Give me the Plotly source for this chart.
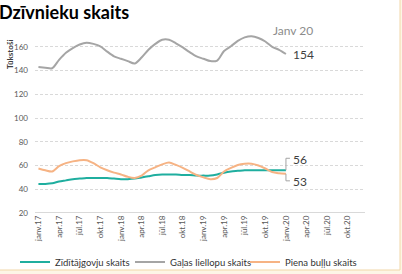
import plotly.graph_objects as go

years = ["17", "18", "19", "20"]
month_abbr = ["janv.", "febr.", "marts", "apr.", "maijs", "jūn.", "jūl.", "aug.", "sept.", "okt.", "nov.", "dec."]
months = [m + y for y in years for m in month_abbr]
tick_labels = [m for i, m in enumerate(months) if i % 3 == 0]

zidit = [44.5, 44.5, 45, 46.5, 47.5, 48.5, 49, 49.5, 49.5, 49.5, 49.5, 49,
         48.5, 48.5, 49, 50, 51, 52, 52.5, 52.5, 52.5, 52, 52, 51.5,
         51.5, 51.5, 52.5, 54, 55, 55.5, 56, 56, 56, 56, 56, 56,
         56]
galas = [143, 142.5, 142, 149, 155, 159, 162, 163.5, 162.5, 160.5, 156, 152,
         150, 148, 146, 151, 157.5, 162.5, 166, 166, 163, 159.5, 155.5, 152,
         150, 148, 148.5, 156.5, 160.5, 165, 168, 169, 167.5, 164.5, 160, 157.5,
         154]
piena = [57.5, 56, 55, 59.5, 62, 63.5, 64.5, 64.5, 62, 58.5, 56, 54,
         52.5, 50.5, 49.5, 51.5, 56, 58.5, 61, 62.5, 60.5, 58, 55, 52,
         50, 48.5, 49.5, 55, 58, 60.5, 61.5, 61.5, 60, 57.5, 54.5, 53.5,
         53]
series_names = ["Zīdītājgovju skaits", "Gaļas liellopu skaits", "Piena buļļu skaits"]
colors = ["#1fae9f", "#a5a5a5", "#f6b384"]

FONT = "Lato"
W, H = 402, 274
L, R, T, B = 35, 37, 35, 61
pw, ph = W - L - R, H - T - B

def px_x(p):
    return (p - L) / pw

def px_y(p):
    return (H - B - p) / ph

fig = go.Figure()
x_data = months[:len(zidit)]
for name, vals, col in zip(series_names, [zidit, galas, piena], colors):
    fig.add_trace(go.Scatter(
        x=x_data, y=vals, name=name, mode="lines",
        line=dict(color=col, width=2, shape="spline", smoothing=0.8),
    ))

last = x_data[-1]
annots = [
    dict(x=px_x(0), y=px_y(12), xref="paper", yref="paper", text="<b>Dzīvnieku skaits</b>",
         showarrow=False, xanchor="left", yanchor="middle", xshift=-3,
         font=dict(size=18, color="#000000", family=FONT)),
    dict(x=px_x(10), y=px_y(55), xref="paper", yref="paper", text="<b>Tūkstoši</b>", textangle=-90,
         showarrow=False, xanchor="center", yanchor="middle", font=dict(size=8, color="#404040", family=FONT)),
    dict(x=last, y=galas[-1], xref="x", yref="y", text="Janv 20", showarrow=False,
         xanchor="center", yanchor="middle", xshift=7, yshift=23, font=dict(size=12, color="#8c8c8c", family=FONT)),
    dict(x=last, y=galas[-1], xref="x", yref="y", text="154", showarrow=False,
         xanchor="left", yanchor="middle", xshift=5, yshift=-1, font=dict(size=12, color="#404040", family=FONT)),
    dict(x=last, y=zidit[-1], xref="x", yref="y", text="56", showarrow=False,
         xanchor="left", yanchor="middle", xshift=5, yshift=11, font=dict(size=12, color="#404040", family=FONT)),
    dict(x=last, y=piena[-1], xref="x", yref="y", text="53", showarrow=False,
         xanchor="left", yanchor="middle", xshift=5, yshift=-8, font=dict(size=12, color="#404040", family=FONT)),
]

shapes = [
    dict(type="rect", xref="paper", yref="paper", x0=px_x(-5), x1=px_x(400), y0=px_y(270), y1=px_y(-5),
         fillcolor="#ffffff", line=dict(color="#f1d7a8", width=1), layer="below"),
    dict(type="path", xref="x", yref="y", xsizemode="pixel", ysizemode="pixel",
         xanchor=len(zidit) - 1, yanchor=zidit[-1], path="M0,0 L0,12 L4,12",
         line=dict(color="#a5a5a5", width=1)),
    dict(type="path", xref="x", yref="y", xsizemode="pixel", ysizemode="pixel",
         xanchor=len(piena) - 1, yanchor=piena[-1], path="M0,0 L0,-7 L4,-7",
         line=dict(color="#a5a5a5", width=1)),
]

fig.update_layout(
    width=W, height=H,
    margin=dict(l=L, r=R, t=T, b=B, autoexpand=False),
    paper_bgcolor="#fdf6e6", plot_bgcolor="#ffffff",
    font=dict(family=FONT, color="#595959"),
    showlegend=True,
    legend=dict(orientation="h", x=px_x(15), y=px_y(262), xanchor="left", yanchor="middle",
                font=dict(size=9.5, color="#333333", family=FONT), bgcolor="rgba(0,0,0,0)",
                entrywidth=70, entrywidthmode="pixels", itemwidth=30, tracegroupgap=0),
    annotations=annots, shapes=shapes,
    xaxis=dict(type="category", categoryorder="array", categoryarray=months,
               range=[-0.5, len(months) - 0.5], tickmode="array", tickvals=tick_labels, ticktext=tick_labels,
               tickangle=-90, tickfont=dict(size=8, color="#595959", family=FONT),
               showgrid=False, showline=False, zeroline=False, ticks=""),
    yaxis=dict(range=[20, 170], tickvals=[20, 40, 60, 80, 100, 120, 140, 160],
               tickfont=dict(size=8, color="#595959", family=FONT),
               showgrid=True, gridcolor="#d9d9d9", griddash="3px,2px", gridwidth=1,
               zeroline=False, showline=False, ticks="", ticklabelstandoff=6),
)
# solid baseline at y=20
fig.add_hline(y=20, line=dict(color="#d9d9d9", width=2), layer="below")

fig.write_html("out.html", config={"displayModeBar": False},
               post_script="document.body.style.margin='0';document.body.style.overflow='hidden';")
